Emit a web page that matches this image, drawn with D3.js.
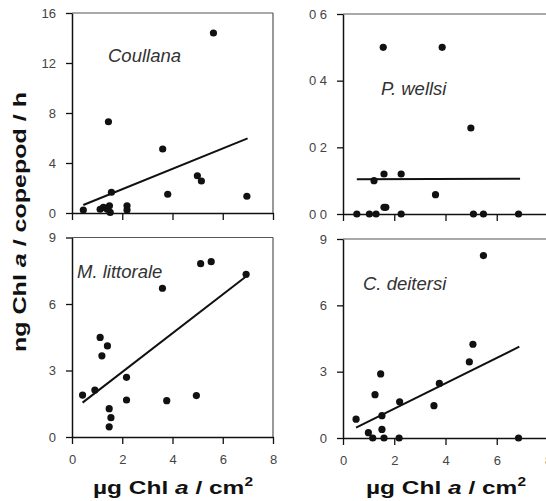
<!DOCTYPE html>
<html>
<head>
<script src="https://d3js.org/d3.v7.min.js"></script>
<style>
  body { margin: 0; background: #fff; }
  svg text { font-family: "Liberation Sans", Arial, sans-serif; }
  .tick text { fill: #444; font-size: 13px; }
  .domain { stroke: #111; stroke-width: 1.5px; }
  .tick line { stroke: #111; stroke-width: 1.3px; }
</style>
</head>
<body>
<svg id="chart" width="546" height="501"></svg>
<script>
// Coullana
const coullanaX = [5.63, 1.45, 3.61, 4.99, 5.15, 3.81, 6.96, 1.57, 0.45, 1.12, 1.25, 1.49, 1.52, 2.19, 2.19, 1.40];
const coullanaY = [14.4, 7.3, 5.12, 2.98, 2.56, 1.5, 1.34, 1.66, 0.24, 0.3, 0.45, 0.58, 0.05, 0.58, 0.24, 0.3];
const coullanaFit = [[0.45, 0.64], [6.99, 5.97]];

// P. wellsi
const wellsiX = [1.57, 3.87, 4.99, 3.61, 1.60, 2.27, 1.21, 1.60, 1.67, 0.54, 1.03, 1.29, 2.27, 5.09, 5.48, 6.85];
const wellsiY = [0.50, 0.50, 0.258, 0.058, 0.12, 0.12, 0.10, 0.02, 0.02, 0, 0, 0, 0, 0, 0, 0];
const wellsiFit = [[0.54, 0.104], [6.91, 0.106]];

// M. littorale
const littoraleX = [0.42, 0.91, 1.12, 1.19, 1.41, 1.48, 1.55, 1.48, 2.17, 2.17, 3.6, 3.77, 4.95, 5.12, 5.54, 6.93];
const littoraleY = [1.89, 2.12, 4.49, 3.66, 4.11, 1.28, 0.87, 0.46, 2.69, 1.67, 6.71, 1.64, 1.87, 7.82, 7.91, 7.34];
const littoraleFit = [[0.42, 1.55], [6.9, 7.22]];

// C. deitersi
const deitersiX = [5.48, 5.07, 4.93, 3.76, 3.55, 1.47, 1.25, 0.51, 1.52, 2.21, 1.52, 0.99, 1.16, 1.6, 2.19, 6.85];
const deitersiY = [8.25, 4.24, 3.44, 2.47, 1.46, 2.90, 1.96, 0.85, 1.01, 1.64, 0.39, 0.24, 0, 0, 0, 0];
const deitersiFit = [[0.51, 0.47], [6.88, 4.13]];

const xTicks = [0, 2, 4, 6, 8];
const coullanaTicks = [0, 4, 8, 12, 16];
const wellsiTicks = [0, 0.2, 0.4, 0.6];
const lowerTicks = [0, 3, 6, 9];

const svg = d3.select("#chart");

function drawPanel(p) {
    const x = d3.scaleLinear().domain([0, 8]).range(p.xr);
    const y = d3.scaleLinear().domain([0, p.ymax]).range(p.yr);
    const g = svg.append("g");

    // frame (top and right sides, lighter)
    g.append("line").attr("x1", p.xr[0]).attr("x2", p.xr[1])
        .attr("y1", p.yr[1]).attr("y2", p.yr[1])
        .attr("stroke", "#555").attr("stroke-width", 1.2);
    g.append("line").attr("x1", p.xr[1]).attr("x2", p.xr[1])
        .attr("y1", p.yr[0]).attr("y2", p.yr[1])
        .attr("stroke", "#555").attr("stroke-width", 1.2);

    const xa = d3.axisBottom(x).tickValues(xTicks).tickSize(7).tickSizeOuter(0).tickPadding(11);
    if (!p.xlabels) xa.tickFormat("");
    g.append("g").attr("transform", `translate(0,${p.yr[0]})`).call(xa);

    g.append("g").attr("transform", `translate(${p.xr[0]},0)`)
        .call(d3.axisLeft(y).tickValues(p.yticks).tickSize(6).tickSizeOuter(0)
            .tickPadding(10).tickFormat(p.fmt));

    // regression line
    g.append("line")
        .attr("x1", x(p.fit[0][0])).attr("y1", y(p.fit[0][1]))
        .attr("x2", x(p.fit[1][0])).attr("y2", y(p.fit[1][1]))
        .attr("stroke", "#111").attr("stroke-width", 2);

    g.selectAll("circle.pt")
        .data(p.xs.map((v, i) => [v, p.ys[i]]))
        .enter().append("circle")
        .attr("class", "pt")
        .attr("cx", d => x(d[0]))
        .attr("cy", d => y(d[1]))
        .attr("r", 3.6)
        .attr("fill", "#111");

    g.append("text").attr("x", p.lx).attr("y", p.ly)
        .style("font-style", "italic").style("font-size", "18.5px")
        .attr("fill", "#333").text(p.name);
}

drawPanel({name: "Coullana", xs: coullanaX, ys: coullanaY, fit: coullanaFit, ymax: 16,
    yticks: coullanaTicks, fmt: d3.format("d"), xr: [72, 273], yr: [213, 13],
    xlabels: false, lx: 108, ly: 62});
drawPanel({name: "P. wellsi", xs: wellsiX, ys: wellsiY, fit: wellsiFit, ymax: 0.6,
    yticks: wellsiTicks, fmt: d => d.toFixed(1).replace(".", " "), xr: [343, 548], yr: [214, 14],
    xlabels: false, lx: 381, ly: 95});
drawPanel({name: "M. littorale", xs: littoraleX, ys: littoraleY, fit: littoraleFit, ymax: 9,
    yticks: lowerTicks, fmt: d3.format("d"), xr: [72, 273], yr: [437, 237.5],
    xlabels: true, lx: 77, ly: 278});
drawPanel({name: "C. deitersi", xs: deitersiX, ys: deitersiY, fit: deitersiFit, ymax: 9,
    yticks: lowerTicks, fmt: d3.format("d"), xr: [343, 548], yr: [438, 239],
    xlabels: true, lx: 363, ly: 290});

// axis titles
function xTitle(cx) {
    const t = svg.append("text").attr("x", cx).attr("y", 494)
        .attr("text-anchor", "middle").style("font-size", "19px").style("font-weight", "bold")
        .attr("fill", "#111")
        .attr("textLength", 160).attr("lengthAdjust", "spacingAndGlyphs");
    t.append("tspan").text("µg Chl ");
    t.append("tspan").style("font-style", "italic").text("a");
    t.append("tspan").text(" / cm");
    t.append("tspan").attr("dy", -8).style("font-size", "12px").text("2");
}
xTitle(173);
xTitle(446);

const yt = svg.append("text")
    .attr("transform", "translate(26,222) rotate(-90)")
    .attr("text-anchor", "middle").style("font-size", "19px").style("font-weight", "bold")
    .attr("fill", "#111")
    .attr("textLength", 260).attr("lengthAdjust", "spacingAndGlyphs");
yt.append("tspan").text("ng Chl ");
yt.append("tspan").style("font-style", "italic").text("a");
yt.append("tspan").text(" / copepod / h");
</script>
</body>
</html>
